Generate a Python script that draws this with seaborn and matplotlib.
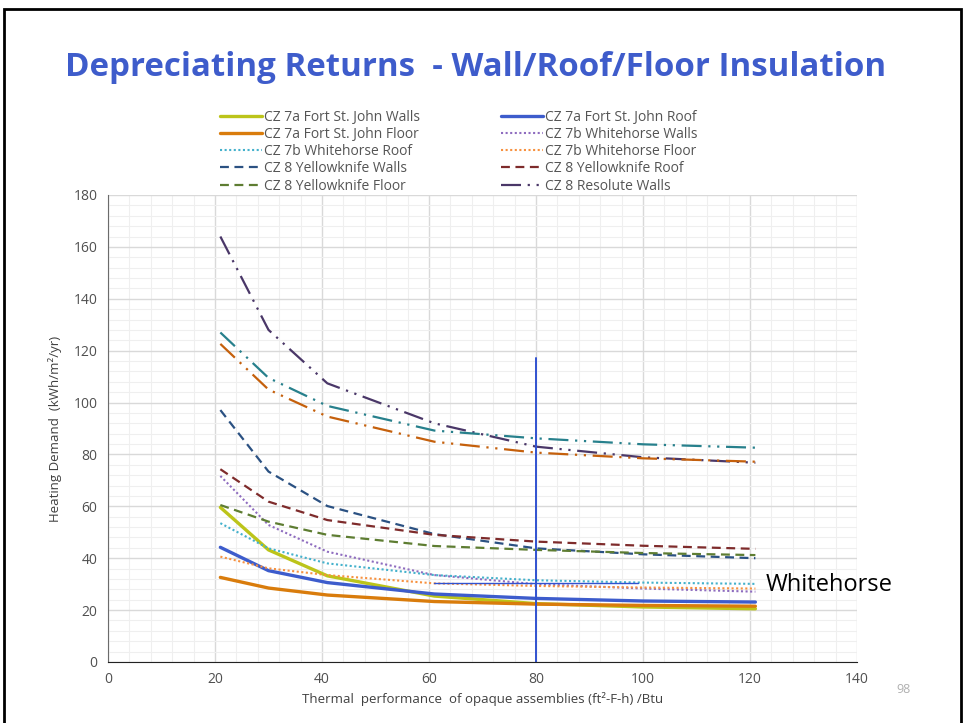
"""Depreciating returns chart: heating demand vs. opaque assembly R-value."""

from __future__ import annotations

import matplotlib

matplotlib.use("Agg")

import matplotlib.pyplot as plt
import pandas as pd
import seaborn as sns
from matplotlib.patches import Rectangle
from matplotlib.ticker import MultipleLocator


R_VALUES = [21, 30, 41, 61, 80, 100, 121]

FSJ_WALLS = [59.6, 43.2, 33.2, 25.4, 22.5, 21.2, 20.5]
FSJ_ROOF = [44.2, 35.2, 30.6, 26.2, 24.5, 23.5, 23.1]
FSJ_FLOOR = [32.6, 28.5, 25.8, 23.3, 22.3, 21.8, 21.5]
WH_WALLS = [71.7, 52.8, 42.5, 33.5, 30.0, 28.3, 27.1]
WH_ROOF = [53.5, 43.8, 38.0, 33.5, 31.5, 30.6, 30.1]
WH_FLOOR = [40.6, 36.1, 33.5, 30.3, 29.3, 28.7, 28.3]
YK_WALLS = [97.1, 73.4, 60.1, 49.3, 43.8, 41.5, 40.0]
YK_ROOF = [74.3, 61.8, 54.7, 49.0, 46.4, 44.8, 43.6]
YK_FLOOR = [60.5, 54.1, 49.0, 44.7, 43.2, 42.0, 41.2]
RES_WALLS = [164.0, 128.0, 107.4, 92.0, 83.0, 78.9, 76.8]
RES_ROOF = [127.0, 109.5, 98.7, 89.2, 86.2, 83.9, 82.6]
RES_FLOOR = [122.6, 105.0, 94.6, 84.9, 80.7, 78.5, 77.2]

SERIES_NAMES = [
    "CZ 7a Fort St. John Walls",
    "CZ 7a Fort St. John Roof",
    "CZ 7a Fort St. John Floor",
    "CZ 7b Whitehorse Walls",
    "CZ 7b Whitehorse Roof",
    "CZ 7b Whitehorse Floor",
    "CZ 8 Yellowknife Walls",
    "CZ 8 Yellowknife Roof",
    "CZ 8 Yellowknife Floor",
    "CZ 8 Resolute Walls",
    "CZ 8 Resolute Roof",
    "CZ 8 Resolute Floor",
]
SERIES_VALUES = [
    FSJ_WALLS, FSJ_ROOF, FSJ_FLOOR,
    WH_WALLS, WH_ROOF, WH_FLOOR,
    YK_WALLS, YK_ROOF, YK_FLOOR,
    RES_WALLS, RES_ROOF, RES_FLOOR,
]
# the legend in the slide is cut off after the Resolute walls entry
LEGEND_COUNT = 10

# marker lines drawn on the slide
CUTOFF_X = [80, 80]
CUTOFF_Y = [0, 117]
WH_MARK_X = [61, 99]
WH_MARK_Y = [30.6, 30.6]

TITLE = "Depreciating Returns  - Wall/Roof/Floor Insulation"
X_LABEL = "Thermal  performance  of opaque assemblies (ft²-F-h) /Btu"
Y_LABEL = "Heating Demand  (kWh/m²/yr)"

DASH = (0, (4, 2.5))
DOT = (0, (1, 1.2))
DASH_DOT_DOT = (0, (9, 3, 1, 3, 1, 3))

STYLES = [
    dict(color="#bcc41a", lw=2.4, ls="-"),
    dict(color="#3d5ccc", lw=2.4, ls="-"),
    dict(color="#d97c0c", lw=2.4, ls="-"),
    dict(color="#8e6cbf", lw=1.5, ls=DOT),
    dict(color="#44b1cc", lw=1.5, ls=DOT),
    dict(color="#f7913f", lw=1.5, ls=DOT),
    dict(color="#2b5182", lw=1.6, ls=DASH),
    dict(color="#7e2b2b", lw=1.6, ls=DASH),
    dict(color="#5e7d32", lw=1.6, ls=DASH),
    dict(color="#4a3768", lw=1.6, ls=DASH_DOT_DOT),
    dict(color="#27808c", lw=1.6, ls=DASH_DOT_DOT),
    dict(color="#c5600c", lw=1.6, ls=DASH_DOT_DOT),
]


def build_frame() -> pd.DataFrame:
    rows = []
    for name, values in zip(SERIES_NAMES, SERIES_VALUES):
        for x, y in zip(R_VALUES, values):
            rows.append({"series": name, "r_value": x, "demand": y})
    return pd.DataFrame(rows)


def main() -> None:
    sns.set_style("white")
    plt.rcParams["font.family"] = ["Open Sans", "DejaVu Sans"]

    df = build_frame()
    fig = plt.figure(figsize=(9.66, 7.23), dpi=100)
    ax = fig.add_axes([0.1118, 0.0844, 0.7754, 0.6459])

    handles = []
    for i, name in enumerate(SERIES_NAMES):
        style = STYLES[i]
        sub = df[df["series"] == name]
        sns.lineplot(
            data=sub, x="r_value", y="demand", ax=ax,
            color=style["color"], linewidth=style["lw"], linestyle=style["ls"],
            label=name if i < LEGEND_COUNT else None, legend=False,
        )
        handles.append(ax.lines[-1])

    ax.plot(CUTOFF_X, CUTOFF_Y, color="#3152d0", lw=1.4)
    ax.plot(WH_MARK_X, WH_MARK_Y, color="#3152d0", lw=1.0)
    ax.text(123, 29.7, "Whitehorse", fontsize=17, color="black", va="center", ha="left")

    ax.set_xlim(0, 140)
    ax.set_ylim(0, 180)
    ax.xaxis.set_major_locator(MultipleLocator(20))
    ax.yaxis.set_major_locator(MultipleLocator(20))
    ax.xaxis.set_minor_locator(MultipleLocator(4))
    ax.yaxis.set_minor_locator(MultipleLocator(4))
    ax.grid(which="major", color="#d9d9d9", lw=1.0)
    ax.grid(which="minor", color="#efefef", lw=0.8)
    ax.set_axisbelow(True)

    for side in ("top", "right"):
        ax.spines[side].set_visible(False)
    ax.spines["left"].set_color("#6b6b6b")
    ax.spines["bottom"].set_color("#222222")
    ax.tick_params(axis="both", which="major", direction="out", length=4,
                   labelsize=10, labelcolor="#505050", color="#6b6b6b")
    ax.tick_params(axis="both", which="minor", length=0)

    ax.set_xlabel(X_LABEL, fontsize=9.5, color="#404040", labelpad=3)
    ax.set_ylabel(Y_LABEL, fontsize=9.5, color="#404040", labelpad=8)

    # legend is interleaved in two columns like the slide (row-wise order)
    legend_handles = handles[:LEGEND_COUNT]
    left = legend_handles[0::2]
    right = legend_handles[1::2]
    ordered = left + right
    fig.legend(
        ordered, [h.get_label() for h in ordered],
        ncol=2, loc="upper left", bbox_to_anchor=(0.222, 0.856),
        frameon=False, fontsize=10, labelcolor="#555555",
        handlelength=3.0, handletextpad=0.2, columnspacing=5.8,
        labelspacing=0.16, borderaxespad=0,
    )

    fig.text(0.0673, 0.906, TITLE, fontsize=23.8, fontweight="bold",
             color="#3e5ccb", va="center", ha="left")
    fig.text(0.9275, 0.046, "98", fontsize=9, color="#b0b0b0", va="center")

    fig.patches.append(Rectangle((0.004, -0.02), 0.991, 1.0076, transform=fig.transFigure,
                                 fill=False, edgecolor="black", lw=2.0))

    fig.savefig("out.png", dpi=100)
    plt.close(fig)


if __name__ == "__main__":
    main()
